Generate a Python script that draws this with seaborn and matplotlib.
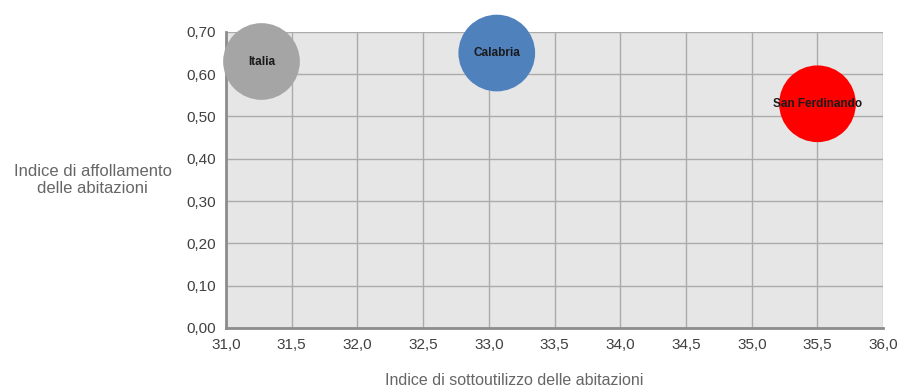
import matplotlib
matplotlib.use("Agg")
import matplotlib.pyplot as plt
import seaborn as sns
import pandas as pd
from matplotlib.ticker import FuncFormatter

territori = ["Italia", "Calabria", "San Ferdinando"]
sottoutilizzo = [31.27, 33.06, 35.50]
affollamento = [0.63, 0.65, 0.53]
dimensione = [1.0, 1.0, 1.0]
colori = ["#A5A5A5", "#4F81BD", "#FF0000"]

df = pd.DataFrame({"territorio": territori, "x": sottoutilizzo,
                   "y": affollamento, "size": dimensione})

sns.set_style("white")
plt.rcParams['font.family'] = ['Liberation Sans', 'DejaVu Sans']

fig = plt.figure(figsize=(9.04, 3.89), dpi=100)
ax = fig.add_axes([0.25, 0.157, 0.727, 0.761])
ax.set_facecolor("#E6E6E6")

sns.scatterplot(data=df, x="x", y="y", hue="territorio", palette=colori,
                size="size", sizes=(3050, 3050), legend=False, ax=ax,
                edgecolor="none", clip_on=False, zorder=3)
for c in ax.collections:
    c.set_clip_on(False)

for t, xv, yv in zip(territori, sottoutilizzo, affollamento):
    ax.text(xv, yv, t, ha="center", va="center", fontsize=8.5,
            fontweight="bold", color="#1a1a1a", zorder=4)

ax.set_xlim(31.0, 36.0)
ax.set_ylim(0.0, 0.70)
ax.set_xticks([31.0 + 0.5 * i for i in range(11)])
ax.set_yticks([0.1 * i for i in range(8)])
ax.xaxis.set_major_formatter(FuncFormatter(lambda v, p: f"{v:.1f}".replace(".", ",")))
ax.yaxis.set_major_formatter(FuncFormatter(lambda v, p: f"{v:.2f}".replace(".", ",")))
ax.grid(True, color="#ABABAB", linewidth=1.0, zorder=0)
ax.set_axisbelow(True)

for s in ["top", "right"]:
    ax.spines[s].set_visible(False)
for s in ["left", "bottom"]:
    ax.spines[s].set_color("#8C8C8C")
    ax.spines[s].set_linewidth(2)
ax.tick_params(axis="both", which="both", direction="out", length=4,
               width=1.5, color="#8C8C8C", labelsize=11, labelcolor="#404040")

ax.set_xlabel("Indice di sottoutilizzo delle abitazioni", fontsize=11.5,
              color="#666666")
ax.xaxis.set_label_coords(0.438, -0.152)
ax.set_ylabel("Indice di affollamento\ndelle abitazioni", fontsize=12,
              color="#666666", rotation=0, ha="center", va="center")
ax.yaxis.set_label_coords(-0.203, 0.5)

fig.savefig("out.png", dpi=100)
